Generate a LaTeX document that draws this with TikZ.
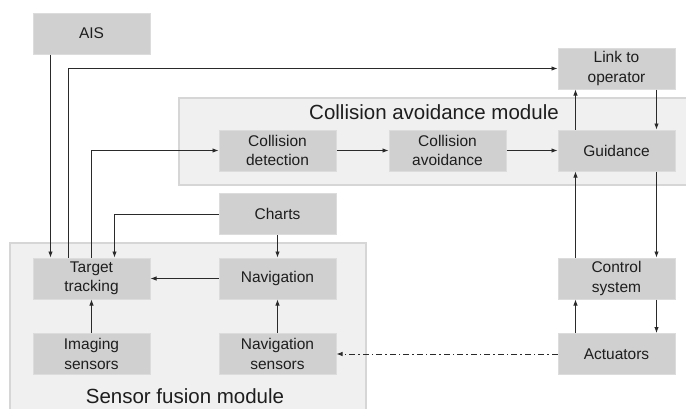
\documentclass[tikz,border=0pt]{standalone}
\usepackage{fontspec}
\setmainfont{Liberation Sans}
\usetikzlibrary{arrows.meta}
\definecolor{boxfill}{HTML}{D0D0D0}
\definecolor{boxborder}{HTML}{DCDCDC}
\definecolor{modfill}{HTML}{F0F0F0}
\definecolor{modborder}{HTML}{D6D6D6}
\definecolor{linec}{HTML}{2A2A2A}
\definecolor{txt}{HTML}{1E1E1E}
\begin{document}
\begin{tikzpicture}[x=1pt,y=-1pt,
  box/.style={draw=boxborder, line width=1pt, fill=boxfill, minimum width=117pt,
    minimum height=41pt, inner sep=0pt, align=center,
    font=\fontsize{15.5}{19.5}\selectfont, text=txt},
  module/.style={draw=modborder, fill=modfill, line width=1.3pt},
  modtitle/.style={font=\fontsize{20.5}{24}\selectfont, text=txt, anchor=base, inner sep=0pt},
  conn/.style={draw=linec, line width=0.9pt, -{Latex[length=6pt,width=4.5pt]}},
  dashdotconn/.style={conn, dash pattern=on 6pt off 3pt on 1.5pt off 3pt},
]
\useasboundingbox (0,0) rectangle (686,408);
\clip (0,0) rectangle (686,408);
% module backgrounds
\path[module] (179,98) rectangle (692,185);
\path[module] (10,243) rectangle (366,414);
\node[modtitle] (camt) at (434,119) {Collision avoidance module};
\node[modtitle] (sfmt) at (185,403) {Sensor fusion module};
% boxes
\node[box] (ais) at (91.5,33.5) {AIS};
\node[box] (link) at (616.5,68.5) {Link to\\operator};
\node[box] (cdet) at (277.5,150.5) {Collision\\detection};
\node[box] (cav) at (447.5,150.5) {Collision\\avoidance};
\node[box] (guid) at (616.5,150.5) {Guidance};
\node[box] (charts) at (277.5,214) {Charts};
\node[box] (tt) at (91.5,278.5) {Target\\tracking};
\node[box] (nav) at (277.5,278.5) {Navigation};
\node[box] (img) at (91.5,354) {Imaging\\sensors};
\node[box] (navs) at (277.5,354) {Navigation\\sensors};
\node[box] (ctrl) at (616.5,278.5) {Control\\system};
\node[box] (act) at (616.5,354) {Actuators};
% connectors
\draw[conn] ([xshift=18pt]ais.south west) -- ([xshift=18pt]tt.north west);
\draw[conn] ([xshift=36pt]tt.north west) |- (link.west);
\draw[conn] (tt.north) |- (cdet.west);
\draw[conn] (charts.west) -| ([xshift=82pt]tt.north west);
\draw[conn] (charts) -- (nav);
\draw[conn] (nav) -- (tt);
\draw[conn] (img) -- (tt);
\draw[conn] (navs) -- (nav);
\draw[conn] (cdet) -- (cav);
\draw[conn] (cav) -- (guid);
\draw[conn] ([xshift=18pt]guid.north west) -- ([xshift=18pt]link.south west);
\draw[conn] ([xshift=99pt]link.south west) -- ([xshift=99pt]guid.north west);
\draw[conn] ([xshift=18pt]ctrl.north west) -- ([xshift=18pt]guid.south west);
\draw[conn] ([xshift=99pt]guid.south west) -- ([xshift=99pt]ctrl.north west);
\draw[conn] ([xshift=18pt]act.north west) -- ([xshift=18pt]ctrl.south west);
\draw[conn] ([xshift=99pt]ctrl.south west) -- ([xshift=99pt]act.north west);
\draw[dashdotconn] (act.west) -- (navs.east);
\end{tikzpicture}
\end{document}
